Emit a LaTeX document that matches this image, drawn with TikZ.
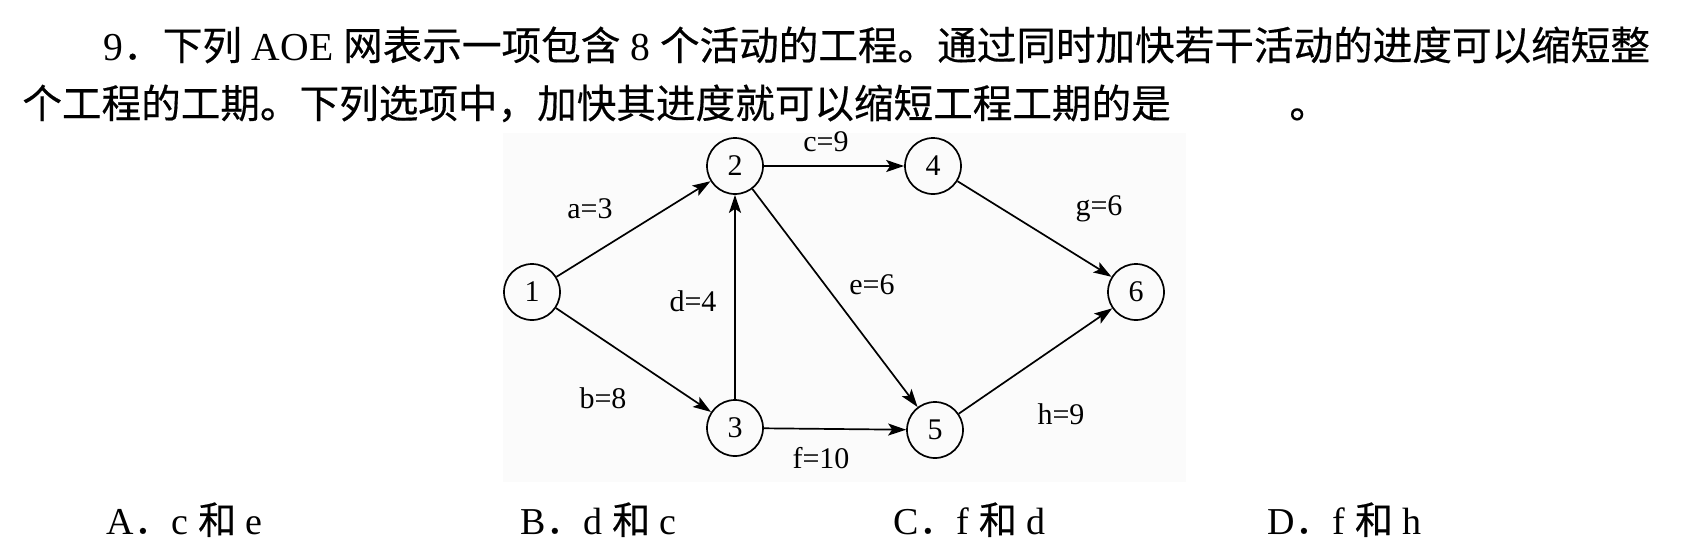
\documentclass[tikz,border=0pt]{standalone}
\usepackage{fontspec}
\setmainfont{Liberation Serif}
\newfontfamily\cjk[FakeBold=0.4]{Noto Sans CJK SC}
\usetikzlibrary{arrows.meta}
\newcommand{\zh}[1]{{\cjk #1}}
\tikzset{
	vertex/.style={draw, circle, line width=0.85pt, minimum size=28pt, inner sep=0pt, font=\fontsize{15}{15}\selectfont},
	arc/.style={draw, line width=0.85pt, -{Stealth[length=9pt, width=6pt, inset=2pt]}},
	weight/.style={inner sep=0pt, font=\fontsize{15}{15}\selectfont},
	textline/.style={anchor=base west, inner sep=0pt, font=\fontsize{19.8}{24}\selectfont},
	choice/.style={anchor=base west, inner sep=0pt, font=\fontsize{19}{22}\selectfont}
}
\begin{document}
\begin{tikzpicture}[x=0.5pt, y=-0.5pt]
	\useasboundingbox (0,0) rectangle (1698,558);
	
	% question
	\node[textline] (q1) at (103,60) {9\zh{．下列} AOE \zh{网表示一项包含} 8 \zh{个活动的工程。通过同时加快若干活动的进度可以缩短整}};
	\node[textline] (q2) at (22,118) {\zh{个工程的工期。下列选项中，加快其进度就可以缩短工程工期的是}};
	\node[textline] (dot) at (1289,118) {\zh{。}};
	
	% AOE net
	\fill[black!1.5] (503,133) rectangle (1186,482);
	
	\node[vertex] (v1) at (532,292) {1};
	\node[vertex] (v2) at (735,166) {2};
	\node[vertex] (v3) at (735,428) {3};
	\node[vertex] (v4) at (933,166) {4};
	\node[vertex] (v5) at (935,430) {5};
	\node[vertex] (v6) at (1136,292) {6};
	
	\draw[arc] (v1) -- (v2);
	\draw[arc] (v1) -- (v3);
	\draw[arc] (v2) -- (v4);
	\draw[arc] (v3) -- (v2);
	\draw[arc] (v2) -- (v5);
	\draw[arc] (v3) -- (v5);
	\draw[arc] (v4) -- (v6);
	\draw[arc] (v5) -- (v6);
	
	\node[weight] (wa) at (590,209) {a=3};
	\node[weight] (wb) at (603,398) {b=8};
	\node[weight] (wc) at (826,142) {c=9};
	\node[weight] (wd) at (693,301) {d=4};
	\node[weight] (we) at (872,285) {e=6};
	\node[weight] (wf) at (821,458) {f=10};
	\node[weight] (wg) at (1099,209) {g=6};
	\node[weight] (wh) at (1061,414) {h=9};
	
	% choices
	\node[choice] (ca) at (106,534) {A\zh{．}c \zh{和} e};
	\node[choice] (cb) at (520,534) {B\zh{．}d \zh{和} c};
	\node[choice] (cc) at (893,534) {C\zh{．}f \zh{和} d};
	\node[choice] (cd) at (1267,534) {D\zh{．}f \zh{和} h};
	
\end{tikzpicture}
\end{document}
